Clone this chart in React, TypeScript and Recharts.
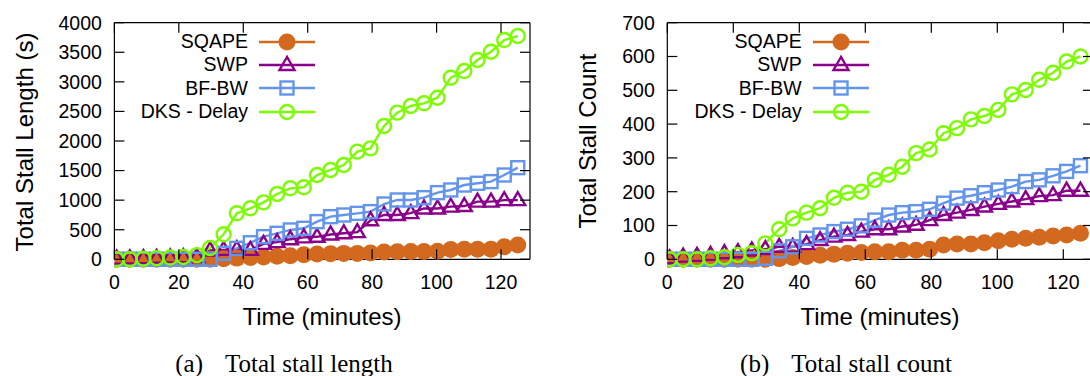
import React from 'react';
import { LineChart, Line, XAxis, YAxis, Legend } from 'recharts';

// sample times (minutes)
const TIME = [0.7, 4.8, 9, 13.1, 17.3, 21.4, 25.6, 29.7, 33.9, 38, 42.2, 46.3, 50.5, 54.6, 58.8, 62.9, 67.1, 71.2, 75.4, 79.5, 83.7, 87.8, 92, 96.1, 100.3, 104.4, 108.6, 112.7, 116.9, 121, 125.2];

// (a) total stall length (s)
const LEN_SQAPE = [0, 0, 0, 0, 0, 0, 0, 0, 10, 20, 30, 40, 50, 60, 75, 90, 95, 100, 100, 105, 125, 128, 130, 132, 135, 165, 168, 170, 172, 213, 242];
const LEN_SWP = [10, 15, 20, 25, 30, 35, 40, 150, 160, 170, 160, 260, 290, 340, 370, 380, 420, 440, 460, 660, 750, 750, 780, 860, 860, 890, 900, 975, 975, 1000, 1000];
const LEN_BFBW = [0, 0, 0, 0, 0, 0, 0, 0, 100, 186, 280, 383, 439, 496, 524, 637, 721, 749, 777, 806, 935, 1003, 1003, 1042, 1127, 1172, 1256, 1285, 1313, 1425, 1549];
const LEN_DKS = [0, 0, 10, 20, 30, 40, 70, 190, 423, 778, 862, 963, 1104, 1200, 1217, 1425, 1510, 1594, 1820, 1876, 2254, 2479, 2592, 2637, 2732, 3070, 3183, 3369, 3510, 3707, 3775];

// (b) total stall count
const CNT_SQAPE = [0, 0, 0, 0, 0, 0, 0, 0, 2, 5, 8, 12, 15, 18, 20, 22, 22, 27, 27, 30, 42, 45, 45, 49, 55, 59, 62, 65, 69, 72, 77];
const CNT_SWP = [3, 8, 10, 13, 18, 21, 26, 30, 37, 37, 45, 57, 67, 72, 82, 89, 89, 97, 102, 116, 131, 138, 146, 156, 164, 171, 178, 187, 190, 203, 203];
const CNT_BFBW = [0, 0, 0, 0, 0, 0, 0, 3, 25, 37, 62, 72, 82, 89, 99, 116, 131, 138, 141, 148, 166, 181, 188, 197, 205, 215, 230, 235, 247, 260, 277];
const CNT_DKS = [0, 0, 0, 3, 6, 13, 18, 47, 89, 121, 138, 151, 182, 197, 200, 235, 250, 274, 314, 325, 373, 388, 414, 424, 442, 488, 501, 531, 552, 585, 600];

const X_MAX = 129;
const X_TICKS = [0, 20, 40, 60, 80, 100, 120];
const LEN_TICKS = [0, 500, 1000, 1500, 2000, 2500, 3000, 3500, 4000];
const CNT_TICKS = [0, 100, 200, 300, 400, 500, 600, 700];

const SERIES = [
  { key: 'sqape', name: 'SQAPE', color: '#d2691e', shape: 'dot' },
  { key: 'swp', name: 'SWP', color: '#8b008b', shape: 'triangle' },
  { key: 'bfbw', name: 'BF-BW', color: '#6495ed', shape: 'square' },
  { key: 'dks', name: 'DKS - Delay', color: '#7cfc00', shape: 'circle' },
];

const SANS = '"Liberation Sans", Arial, sans-serif';
const SW = 2.4;
const TICK_LEN = 10;
const PLOT_TOP = 22.7;
const PLOT_BOTTOM = 259.3;

function marker(shape: string, color: string, cx: number, cy: number, key?: any) {
  if (shape === 'dot') return <circle key={key} cx={cx} cy={cy} r={8.5} fill={color} stroke="none" />;
  if (shape === 'circle') return <circle key={key} cx={cx} cy={cy} r={7} fill="none" stroke={color} strokeWidth={SW} />;
  if (shape === 'square') return <rect key={key} x={cx - 6.5} y={cy - 6.5} width={13} height={13} fill="none" stroke={color} strokeWidth={SW} />;
  return <polygon key={key} points={`${cx},${cy - 8} ${cx - 7.5},${cy + 5} ${cx + 7.5},${cy + 5}`} fill="none" stroke={color} strokeWidth={SW} />;
}

const makeDot = (shape: string, color: string) => (props: any) => {
  const { cx, cy, index } = props;
  if (cx == null || cy == null) return <g key={`d-${index}`} />;
  return marker(shape, color, cx, cy, `d-${index}`);
};

function LegendBox({ textRight }: { textRight: number }) {
  return (
    <div style={{ fontFamily: SANS, fontSize: 19.5 }}>
      {SERIES.map((s) => (
        <div key={s.key} style={{ display: 'flex', alignItems: 'center', height: 23.4 }}>
          <span style={{ width: textRight, textAlign: 'right', lineHeight: 1, whiteSpace: 'nowrap' }}>{s.name}</span>
          <svg width={70} height={24} style={{ overflow: 'visible' }}>
            <line x1={11} x2={67} y1={12} y2={12} stroke={s.color} strokeWidth={SW} />
            {marker(s.shape, s.color, 39, 12)}
          </svg>
        </div>
      ))}
    </div>
  );
}

// frame with inward ticks on all four sides (gnuplot border), laid over the chart
function Frame({ width, plotLeft, plotRight, yMax, yTicks }: { width: number; plotLeft: number; plotRight: number; yMax: number; yTicks: number[] }) {
  const sx = (v: number) => plotLeft + (v / X_MAX) * (plotRight - plotLeft);
  const sy = (v: number) => PLOT_BOTTOM - (v / yMax) * (PLOT_BOTTOM - PLOT_TOP);
  return (
    <svg width={width} height={376} style={{ position: 'absolute', left: 0, top: 0, pointerEvents: 'none', zIndex: 5 }}>
      <g stroke="#000" strokeWidth={1.2} fill="none">
        <line x1={plotLeft} x2={plotRight} y1={PLOT_TOP} y2={PLOT_TOP} />
        <line x1={plotRight} x2={plotRight} y1={PLOT_TOP} y2={PLOT_BOTTOM} />
        {X_TICKS.map((v) => (
          <g key={`x${v}`}>
            <line x1={sx(v)} x2={sx(v)} y1={PLOT_BOTTOM} y2={PLOT_BOTTOM - TICK_LEN} />
            <line x1={sx(v)} x2={sx(v)} y1={PLOT_TOP} y2={PLOT_TOP + TICK_LEN} />
          </g>
        ))}
        {yTicks.map((v) => (
          <g key={`y${v}`}>
            <line x1={plotLeft} x2={plotLeft + TICK_LEN} y1={sy(v)} y2={sy(v)} />
            <line x1={plotRight} x2={plotRight - TICK_LEN} y1={sy(v)} y2={sy(v)} />
          </g>
        ))}
      </g>
    </svg>
  );
}

const AX_W = 60; // left axis box width
const AX_H = 40; // bottom axis box height

function Panel(props: {
  left: number; width: number; plotLeft: number; plotRight: number;
  values: number[][]; yMax: number; yTicks: number[]; legendRight: number;
}) {
  const { left, width, plotLeft, plotRight, values, yMax, yTicks, legendRight } = props;
  const data = TIME.map((t, i) => {
    const row: any = { t };
    SERIES.forEach((s, k) => { row[s.key] = values[k][i]; });
    return row;
  });
  const tickStyle = { fontFamily: SANS, fontSize: 19.5, fill: '#000' };
  const axisLine = { stroke: '#000', strokeWidth: 1.2 };
  return (
    <div style={{ position: 'absolute', left, top: 0, width, height: 376 }}>
      <div style={{ position: 'absolute', left: 0, top: 0 }}>
        <LineChart width={width} height={376} data={data}
          margin={{ top: PLOT_TOP, left: plotLeft - AX_W, right: width - plotRight, bottom: 376 - PLOT_BOTTOM - AX_H }}>
          <XAxis xAxisId="b" dataKey="t" type="number" domain={[0, X_MAX]} ticks={X_TICKS} interval={0}
            height={AX_H} tickSize={0} tickMargin={16} tick={tickStyle} tickLine={false}
            axisLine={axisLine} allowDataOverflow />
          <YAxis yAxisId="l" type="number" domain={[0, yMax]} ticks={yTicks} interval={0}
            width={AX_W} tickSize={0} tickMargin={12.5} tick={tickStyle} tickLine={false}
            axisLine={axisLine} />
          {SERIES.map((s) => (
            <Line key={s.key} xAxisId="b" yAxisId="l" dataKey={s.key} name={s.name} stroke={s.color}
              strokeWidth={SW} dot={makeDot(s.shape, s.color)} isAnimationActive={false} type="linear" />
          ))}
          <Legend layout="horizontal" verticalAlign="middle" align="center"
            wrapperStyle={{ position: 'absolute', left: 0, top: 30, width: legendRight + 80, height: 'auto' }}
            content={() => <LegendBox textRight={legendRight} />} />
        </LineChart>
      </div>
      <Frame width={width} plotLeft={plotLeft} plotRight={plotRight} yMax={yMax} yTicks={yTicks} />
    </div>
  );
}

function Title({ x, y, children, rotate, serif, size }: { x: number; y: number; children: any; rotate?: boolean; serif?: boolean; size: number }) {
  return (
    <div style={{
      position: 'absolute', left: x, top: y, whiteSpace: 'nowrap', lineHeight: 1,
      transform: `translate(-50%, -50%)${rotate ? ' rotate(-90deg)' : ''}`,
      fontFamily: serif ? '"Liberation Serif", "Times New Roman", serif' : SANS, fontSize: size, color: '#000',
    }}>{children}</div>
  );
}

export default function App() {
  return (
    <div style={{ position: 'fixed', left: 0, top: 0, width: 1090, height: 376, overflow: 'hidden', background: '#fff' }}>
      <Panel left={0} width={545} plotLeft={114.4} plotRight={530}
        values={[LEN_SQAPE, LEN_SWP, LEN_BFBW, LEN_DKS]} yMax={4000} yTicks={LEN_TICKS} legendRight={248} />
      <Panel left={545} width={560} plotLeft={122.3} plotRight={548}
        values={[CNT_SQAPE, CNT_SWP, CNT_BFBW, CNT_DKS]} yMax={700} yTicks={CNT_TICKS} legendRight={256.7} />
      <Title x={25} y={141.5} rotate size={24}>Total Stall Length (s)</Title>
      <Title x={588} y={141} rotate size={24}>Total Stall Count</Title>
      <Title x={322} y={317} size={24}>Time (minutes)</Title>
      <Title x={880} y={317} size={24}>Time (minutes)</Title>
      <Title x={284} y={363} serif size={25}><span style={{ marginRight: 22 }}>(a)</span>Total stall length</Title>
      <Title x={846} y={363} serif size={25}><span style={{ marginRight: 22 }}>(b)</span>Total stall count</Title>
    </div>
  );
}
